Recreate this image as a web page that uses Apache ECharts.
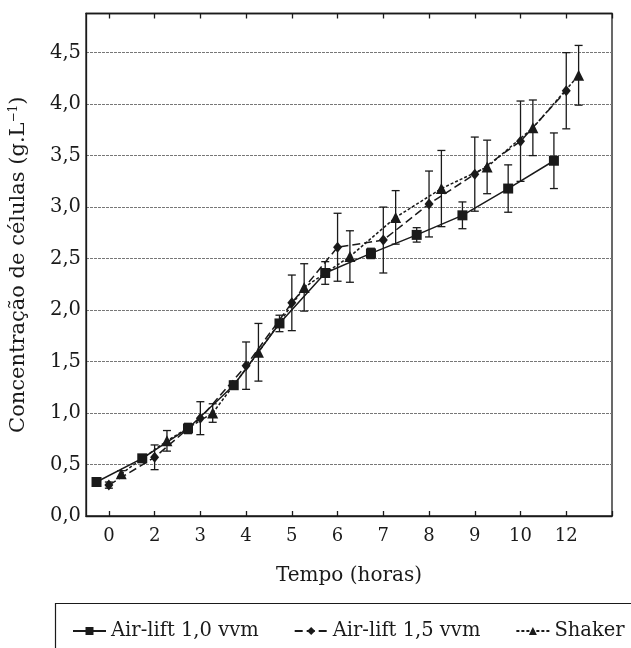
<!DOCTYPE html>
<html>
<head>
<meta charset="utf-8">
<script src="https://cdn.jsdelivr.net/npm/echarts@6/dist/echarts.min.js"></script>
<style>
  html, body { margin: 0; padding: 0; background: #fff; }
  #chart { width: 631px; height: 648px; }
</style>
</head>
<body>
<div id="chart"></div>
<script>
// tempo (horas) - rotulos do eixo x, um por coleta
const hourLabels = ['0', '2', '3', '4', '5', '6', '7', '8', '9', '10', '12']

// concentracao media (g/L) e desvio de cada ensaio
const airlift10 = [0.33, 0.56, 0.85, 1.27, 1.87, 2.36, 2.55, 2.73, 2.92, 3.18, 3.45]
const airlift10Err = [0.02, 0.03, 0.05, 0.04, 0.08, 0.11, 0.05, 0.07, 0.13, 0.23, 0.27]
const airlift15 = [0.30, 0.57, 0.95, 1.46, 2.07, 2.61, 2.68, 3.03, 3.32, 3.64, 4.13]
const airlift15Err = [0.03, 0.12, 0.16, 0.23, 0.27, 0.33, 0.32, 0.32, 0.36, 0.39, 0.37]
const shaker = [0.41, 0.73, 1.00, 1.59, 2.22, 2.52, 2.90, 3.18, 3.39, 3.77, 4.28]
const shakerErr = [0.03, 0.10, 0.09, 0.28, 0.23, 0.25, 0.26, 0.37, 0.26, 0.27, 0.29]

const font = '"DejaVu Serif", serif'
const ink = '#1a1a1a'
const shift = 0.27 // deslocamento lateral dos pontos de cada serie

const chart = echarts.init(document.getElementById('chart'))

const points = (vals, dx) => vals.map((v, i) => [i + dx, v])
const bars = (vals, errs, dx) => vals.map((v, i) => [i + dx, v - errs[i], v + errs[i]])

const renderErr = (params, api) => {
  const x = api.value(0)
  const top = api.coord([x, api.value(2)])
  const bot = api.coord([x, api.value(1)])
  const cap = 4
  const style = { stroke: ink, lineWidth: 1.3 }
  return {
    type: 'group',
    children: [
      { type: 'line', shape: { x1: top[0], y1: top[1], x2: bot[0], y2: bot[1] }, style },
      { type: 'line', shape: { x1: top[0] - cap, y1: top[1], x2: top[0] + cap, y2: top[1] }, style },
      { type: 'line', shape: { x1: bot[0] - cap, y1: bot[1], x2: bot[0] + cap, y2: bot[1] }, style }
    ]
  }
}

const ticks = hourLabels.map((h, i) => i).concat([hourLabels.length])

const option = {
  animation: false,
  grid: {
    left: 85,
    right: 19,
    top: 13.5,
    bottom: 132,
    show: true,
    borderColor: ink,
    borderWidth: 1.3
  },
  legend: {
    left: 72,
    top: 621,
    padding: 0,
    itemWidth: 33,
    itemHeight: 10,
    itemGap: 35,
    textStyle: { fontFamily: font, fontSize: 19.5, color: ink },
    data: ['Air-lift 1,0 vvm', 'Air-lift 1,5 vvm', 'Shaker']
  },
  graphic: [
    {
      type: 'rect',
      shape: { x: 55.5, y: 603.5, width: 700, height: 100 },
      style: { fill: 'none', stroke: ink, lineWidth: 1.2 },
      silent: true
    }
  ],
  xAxis: [
    {
      type: 'value',
      min: -0.5,
      max: 11,
      position: 'bottom',
      name: 'Tempo (horas)',
      nameLocation: 'middle',
      nameGap: 50,
      nameTextStyle: { fontFamily: font, fontSize: 20, color: ink },
      axisLine: { show: true, onZero: false, lineStyle: { color: ink, width: 1.3 } },
      axisTick: { show: true, inside: true, length: 5, customValues: ticks, lineStyle: { color: ink, width: 1.3 } },
      axisLabel: {
        customValues: hourLabels.map((h, i) => i),
        formatter: v => hourLabels[Math.round(v)],
        margin: 11,
        fontFamily: font,
        fontSize: 18,
        color: ink
      },
      splitLine: { show: false }
    },
    {
      type: 'value',
      min: -0.5,
      max: 11,
      position: 'top',
      axisLine: { show: true, onZero: false, lineStyle: { color: ink, width: 1.3 } },
      axisTick: { show: true, inside: true, length: 5, customValues: ticks, lineStyle: { color: ink, width: 1.3 } },
      axisLabel: { show: false },
      splitLine: { show: false }
    }
  ],
  yAxis: {
    type: 'value',
    min: 0,
    max: 4.88,
    interval: 0.5,
    name: 'Concentração de células (g.L{sup|−1})',
    nameLocation: 'middle',
    nameGap: 57,
    nameTextStyle: {
      fontFamily: font,
      fontSize: 21,
      color: ink,
      rich: {
        sup: { fontFamily: font, fontSize: 12, color: ink, verticalAlign: 'top', padding: [0, 0, 8, 0] }
      }
    },
    axisLine: { show: true, onZero: false, lineStyle: { color: ink, width: 1.3 } },
    axisTick: { show: false },
    axisLabel: {
      margin: 5,
      fontFamily: font,
      fontSize: 19.5,
      color: ink,
      showMaxLabel: false,
      formatter: v => (Math.abs(v * 2 - Math.round(v * 2)) < 1e-6 ? v.toFixed(1).replace('.', ',') : '')
    },
    splitLine: { show: true, lineStyle: { color: '#777', width: 1, type: [3, 1] } }
  },
  series: [
    {
      name: 'Air-lift 1,0 vvm',
      type: 'line',
      data: points(airlift10, -shift),
      symbol: 'rect',
      symbolSize: 10,
      itemStyle: { color: ink },
      lineStyle: { color: ink, width: 1.5, type: 'solid' },
      z: 5
    },
    {
      name: 'Air-lift 1,5 vvm',
      type: 'line',
      data: points(airlift15, 0),
      symbol: 'diamond',
      symbolSize: [9, 11],
      itemStyle: { color: ink },
      lineStyle: { color: ink, width: 1.5, type: [8, 4] },
      z: 5
    },
    {
      name: 'Shaker',
      type: 'line',
      data: points(shaker, shift),
      symbol: 'triangle',
      symbolSize: 11,
      itemStyle: { color: ink },
      lineStyle: { color: ink, width: 1.5, type: [3, 2] },
      z: 5
    },
    {
      type: 'custom',
      renderItem: renderErr,
      data: bars(airlift10, airlift10Err, -shift),
      encode: { x: 0, y: [1, 2] },
      z: 4,
      silent: true
    },
    {
      type: 'custom',
      renderItem: renderErr,
      data: bars(airlift15, airlift15Err, 0),
      encode: { x: 0, y: [1, 2] },
      z: 4,
      silent: true
    },
    {
      type: 'custom',
      renderItem: renderErr,
      data: bars(shaker, shakerErr, shift),
      encode: { x: 0, y: [1, 2] },
      z: 4,
      silent: true
    }
  ]
}

chart.setOption(option)
</script>
</body>
</html>
